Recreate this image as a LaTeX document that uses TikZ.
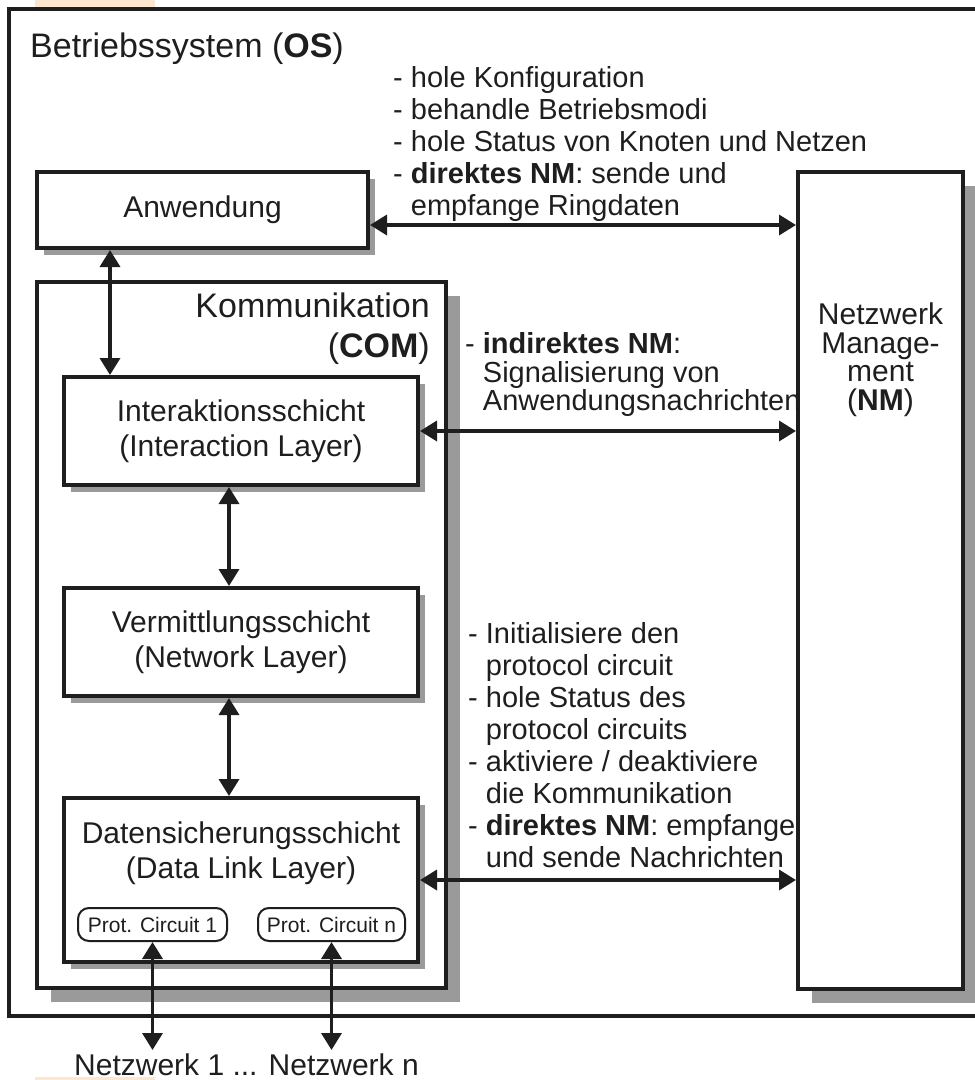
\documentclass[tikz,border=0pt]{standalone}
\usepackage{fontspec}
\setmainfont{Liberation Sans}
\usetikzlibrary{arrows.meta,positioning,shadows}

\definecolor{ink}{HTML}{1E1E1E}
\definecolor{shadowgray}{HTML}{9A9A9A}
\definecolor{peach}{HTML}{FDE8CF}

\newcommand\boxfont{\fontsize{30}{35}\selectfont}
\newcommand\notefont{\fontsize{29}{32}\selectfont}
\newcommand\headfont{\fontsize{34}{40}\selectfont}
\newcommand\pcfont{\fontsize{21}{24}\selectfont}
\newcommand\cont{\hphantom{- }}

\begin{document}
\begin{tikzpicture}[
  x=1pt, y=-1pt,
  every node/.style={inner sep=0pt, text=ink},
  frame/.style={draw=ink, line width=3.2pt},
  box/.style={draw=ink, line width=4pt, fill=white, align=center, font=\boxfont},
  lowshade/.style={general shadow={fill=shadowgray, shadow xshift=7pt, shadow yshift=-7pt}},
  highshade/.style={general shadow={fill=shadowgray, shadow xshift=14pt, shadow yshift=-14pt}},
  note/.style={align=left, font=\notefont, anchor=north west},
  pc/.style={draw=ink, line width=2pt, fill=white, rounded corners=11pt, font=\pcfont},
  link/.style={draw=ink, line width=3.5pt, {Triangle[length=17pt,width=20pt]}-{Triangle[length=17pt,width=20pt]}}
]
\useasboundingbox (0,0) rectangle (975,1080);
\fill[peach] (35,0) rectangle (155,7);
\fill[peach] (35,1077) rectangle (155,1080);

% outer frame: operating system
\node[frame, minimum width=981pt, minimum height=1007pt] (os) at (499.5,512.5) {};
\node[anchor=base west, font=\headfont] (ostxt) at (30,57) {Betriebssystem (\textbf{OS})};

\node[box, lowshade, minimum width=331pt, minimum height=76pt] (app) at (202.5,210) {Anwendung};

% communication stack
\node[box, highshade, minimum width=409pt, minimum height=706pt] (com) at (241.5,635) {};
\node[anchor=north east, align=right, font=\headfont] (comtxt) at (430,293) {Kommunikation\\(\textbf{COM})};
\node[box, lowshade, minimum width=354pt, minimum height=108pt] (ia) at (241,431) {Interaktionsschicht\\(Interaction Layer)};
\node[box, lowshade, minimum width=354pt, minimum height=108pt] (nl) at (241,642) {Vermittlungsschicht\\(Network Layer)};
\node[box, lowshade, minimum width=354pt, minimum height=164pt] (dll) at (241,880) {};
\node[align=center, font=\boxfont] (dlltxt) at (241,853) {Datensicherungsschicht\\(Data Link Layer)};
\node[pc, minimum width=149pt, minimum height=33pt] (pc1) at (152.5,924.5) {Prot. Circuit 1};
\node[pc, minimum width=147pt, minimum height=33pt] (pcn) at (331.5,924.5) {Prot. Circuit n};

% network management
\node[box, highshade, minimum width=165pt, minimum height=817pt] (nm) at (880.5,580.5) {};
\node[anchor=north, align=center, font=\fontsize{30}{28.5}\selectfont] (nmtxt) at (880.5,303) {Netzwerk\\Manage-\\ment\\(\textbf{NM})};

\node[note] (cfgtxt) at (393,66.5) {- hole Konfiguration\\- behandle Betriebsmodi\\- hole Status von Knoten und Netzen\\- \textbf{direktes NM}: sende und\\\cont empfange Ringdaten};
\node[note, font=\fontsize{29}{28.5}\selectfont] (indtxt) at (465,332.5) {- \textbf{indirektes NM}:\\\cont Signalisierung von\\\cont Anwendungsnachrichten};
\node[note] (pctxt) at (468,622.5) {- Initialisiere den\\\cont protocol circuit\\- hole Status des\\\cont protocol circuits\\- aktiviere / deaktiviere\\\cont die Kommunikation\\- \textbf{direktes NM}: empfange\\\cont und sende Nachrichten};

\node[anchor=base, font=\fontsize{30}{36}\selectfont] (nets) at (246.5,1075.5) {Netzwerk 1 ... Netzwerk n};

% connectors
\coordinate (appport) at ([yshift=-15pt]app.east);
\draw[link] (appport) -- (appport -| nm.west);
\coordinate (appdown) at ([xshift=-92.5pt]app.south);
\draw[link] (appdown) -- (appdown |- ia.north);
\draw[link] (ia.east) -- (ia.east -| nm.west);
\coordinate (stack) at ([xshift=-12pt]ia.south);
\draw[link] (stack) -- (stack |- nl.north);
\draw[link] (stack |- nl.south) -- (stack |- dll.north);
\draw[link] (dll.east) -- (dll.east -| nm.west);
\coordinate (net1) at (pc1.south |- 0,1050);
\coordinate (netn) at (pcn.south |- 0,1050);
\draw[link] (pc1.south) -- (net1);
\draw[link] (pcn.south) -- (netn);
\end{tikzpicture}
\end{document}
